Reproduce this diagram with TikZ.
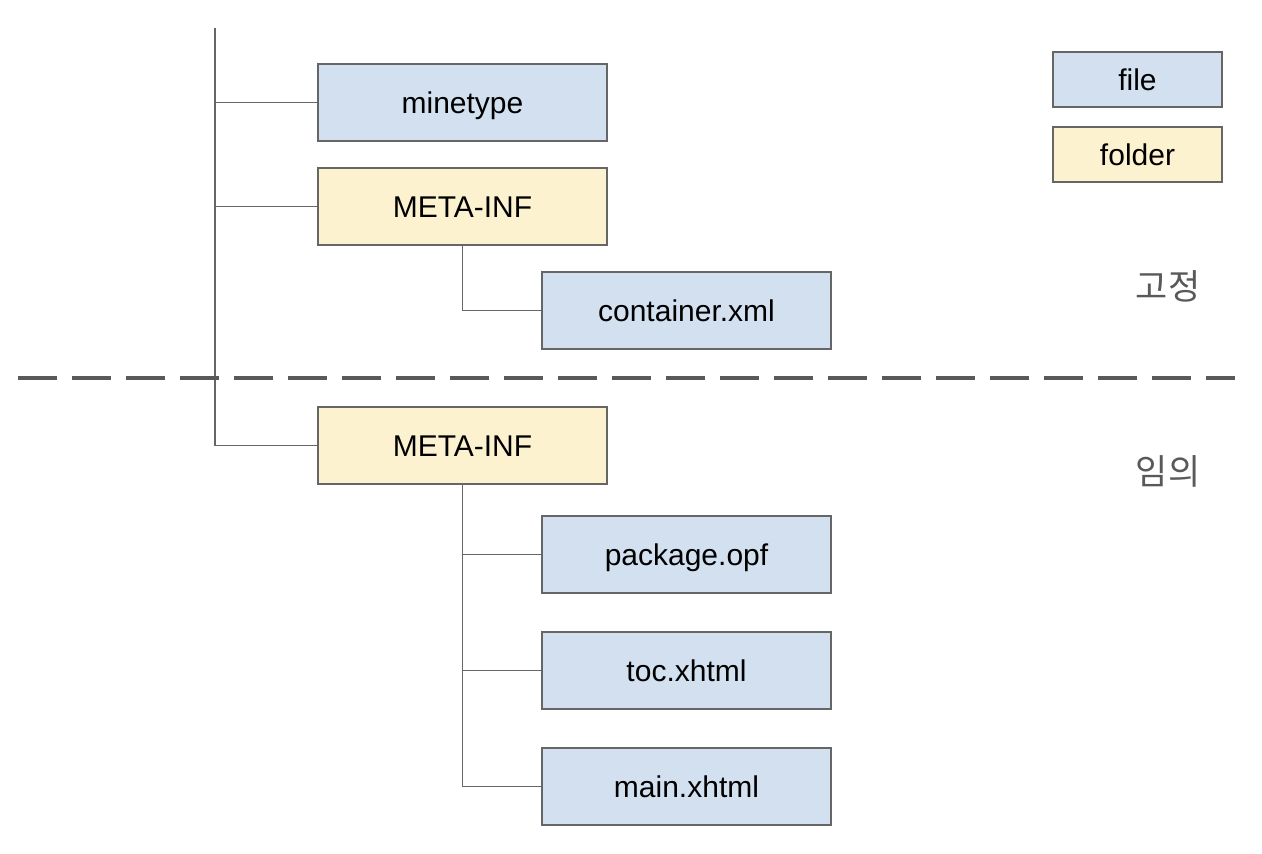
\documentclass[tikz,border=0pt]{standalone}
\usepackage{fontspec}
\setmainfont{Liberation Sans}
\newfontfamily\kofont{Noto Sans CJK KR}
\usepackage{tikz}
\usetikzlibrary{calc}
\definecolor{filefill}{HTML}{D3E0F0}
\definecolor{folderfill}{HTML}{FDF2D0}
\definecolor{edgegray}{HTML}{666666}
\definecolor{labelgray}{HTML}{595959}

\begin{document}
\begin{tikzpicture}[
    x=1pt, y=-1pt,
    box/.style={draw=edgegray, line width=1.6pt, minimum width=289pt, minimum height=77pt,
                inner sep=0pt, text height=22pt, text depth=0pt, font=\fontsize{30}{34}\selectfont},
    filebox/.style={box, fill=filefill},
    folderbox/.style={box, fill=folderfill},
    legendbox/.style={box, minimum width=169pt, minimum height=55pt},
    tree line/.style={draw=edgegray, line width=1.8pt},
    split line/.style={draw=labelgray, line width=4.5pt, dash pattern=on 39pt off 15pt},
    zone label/.style={text=labelgray, font=\kofont\fontsize{35}{40}\selectfont}
    ]
    \useasboundingbox (0,0) rectangle (1262,854);

    % trunk
    \coordinate (top) at (215,28);
    % fixed part
    \node[filebox]   (mine)  at (462.5,102.5) {minetype};
    \node[folderbox] (meta1) at (462.5,206.5) {META-INF};
    \node[filebox]   (cont)  at (686.5,310.5) {container.xml};
    % free part
    \node[folderbox] (meta2) at (462.5,445.5) {META-INF};
    \node[filebox]   (pkg)   at (686.5,554.5) {package.opf};
    \node[filebox]   (toc)   at (686.5,670.5) {toc.xhtml};
    \node[filebox]   (main)  at (686.5,786.5) {main.xhtml};

    % legend
    \node[legendbox, fill=filefill]   (lfile)   at (1137.5,79.5)  {file};
    \node[legendbox, fill=folderfill] (lfolder) at (1137.5,154.5) {folder};

    % tree lines
    \draw[tree line] (top) -- (top |- meta2.west) -- (meta2.west);
    \draw[tree line] (top |- mine.west) -- (mine.west);
    \draw[tree line] (top |- meta1.west) -- (meta1.west);
    \draw[tree line] (meta1.south) |- (cont.west);
    \draw[tree line] (meta2.south) |- (main.west);
    \draw[tree line] (meta2.south |- pkg.west) -- (pkg.west);
    \draw[tree line] (meta2.south |- toc.west) -- (toc.west);

    % split
    \coordinate (sl) at (18,378);
    \coordinate (sr) at (1235,378);
    \draw[split line] (sl) -- (sr);

    \node[zone label] (fixed) at (1168,286) {고정};
    \node[zone label] (free)  at (1168,471) {임의};
\end{tikzpicture}
\end{document}
